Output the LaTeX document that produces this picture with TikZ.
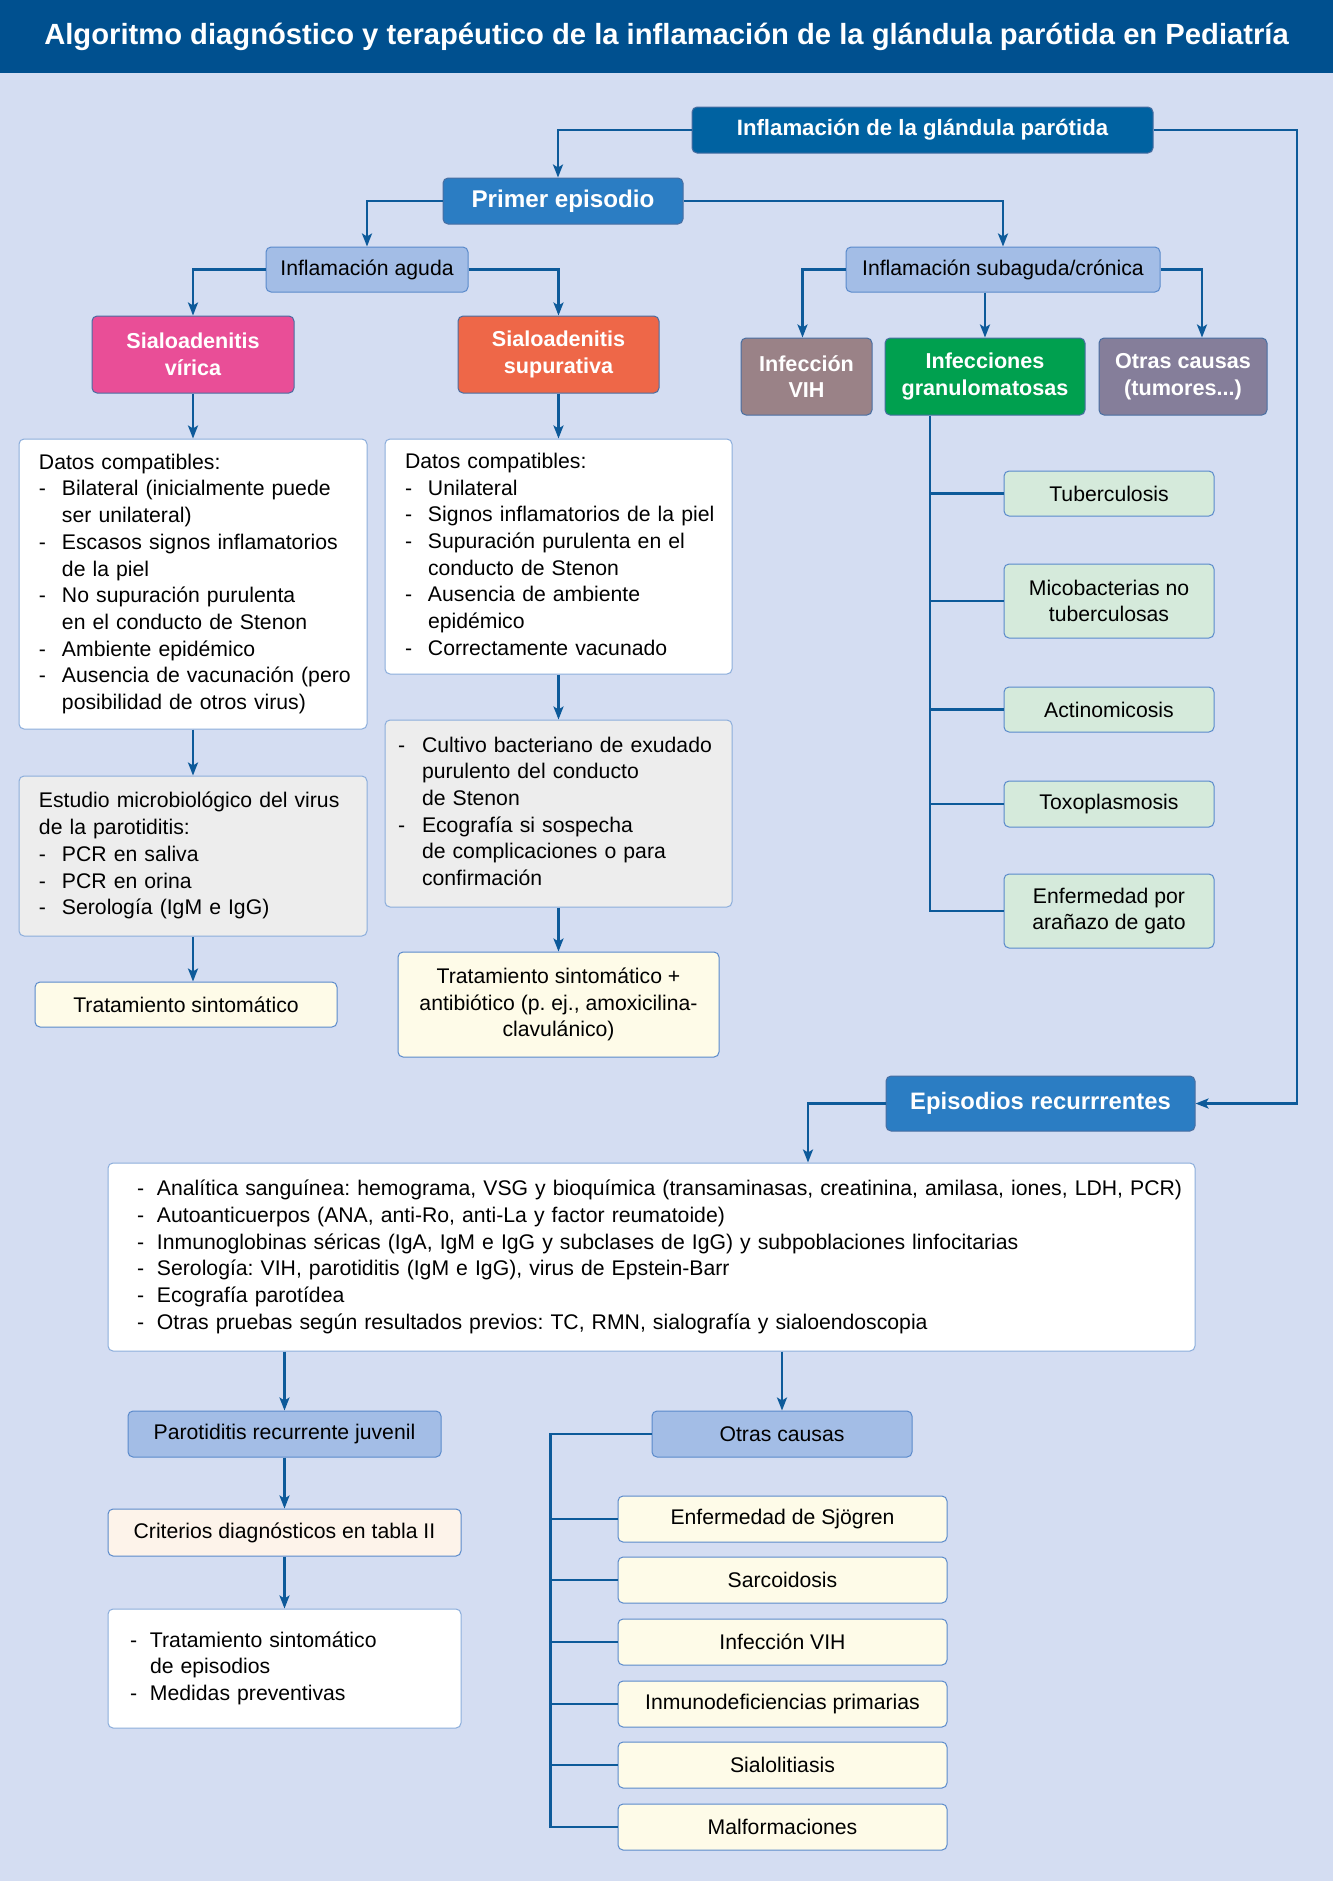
\documentclass[tikz,border=0pt]{standalone}
\usepackage{fontspec}
\setmainfont{Liberation Sans}
\usetikzlibrary{arrows.meta,positioning}
\definecolor{fondo}{HTML}{D4DDF2}
\definecolor{cabecera}{HTML}{00508F}
\definecolor{linea}{HTML}{0D5A9A}
\definecolor{azuloscuro}{HTML}{0062A1}
\definecolor{azulmedio}{HTML}{2B7DC3}
\definecolor{azulclaro}{HTML}{A3BDE6}
\definecolor{bordeclaro}{HTML}{5A8ACB}
\definecolor{rosa}{HTML}{E94E97}
\definecolor{naranja}{HTML}{EE6748}
\definecolor{malva}{HTML}{9A8287}
\definecolor{verde}{HTML}{00A04F}
\definecolor{lila}{HTML}{857E9A}
\definecolor{gris}{HTML}{EDEDED}
\definecolor{crema}{HTML}{FEFBE8}
\definecolor{verdeclaro}{HTML}{D5EADB}
\definecolor{melocoton}{HTML}{FDF3EA}
\frenchspacing
\newcommand{\gi}[1][11.5pt]{\makebox[#1][l]{-}}
\newcommand{\si}[1][11.5pt]{\hspace*{#1}}
\newcommand{\filas}[1]{\begin{tabular}{@{}l@{}}#1\end{tabular}}
\begin{document}
\begin{tikzpicture}[x=0.5pt,y=-0.5pt]
		\tikzstyle{caja}=[rectangle,rounded corners=2.5pt,draw=bordeclaro,line width=0.5pt,inner ysep=1pt,
			font=\fontsize{10.6}{13.35}\selectfont,align=center]
		\tikzstyle{fuerte}=[caja,draw=bordeclaro!80!black,text=white,font=\fontsize{10.8}{13.35}\selectfont\bfseries]
		\tikzstyle{clara}=[caja,fill=azulclaro]
		\tikzstyle{lista}=[caja,align=left,draw=bordeclaro!70]
		\tikzstyle{flecha}=[draw=linea,line width=1.3pt,-{Stealth[length=6.5pt,width=5pt,inset=1.5pt]}]
		\tikzstyle{rama}=[draw=linea,line width=1.3pt]
		\fill[fondo] (0,0) rectangle (1333,1881);
		\fill[cabecera] (0,0) rectangle (1333,73);
		\node[text=white,font=\fontsize{14.6}{17}\selectfont\bfseries] (titulo) at (666.5,36.5)
			{Algoritmo diagnóstico y terapéutico de la inflamación de la glándula parótida en Pediatría};
		% primera parte
		\node[fuerte,fill=azuloscuro,minimum width=230.5pt,minimum height=23pt,font=\fontsize{11.1}{13.35}\selectfont\bfseries] (glandula) at (922.5,130) {Inflamación de la glándula parótida};
		\node[fuerte,fill=azulmedio,minimum width=120pt,minimum height=23pt,font=\fontsize{12.1}{14}\selectfont\bfseries] (primer) at (563,201) {Primer episodio};
		\node[clara,minimum width=101pt,minimum height=22.5pt] (aguda) at (367,269.5) {Inflamación aguda};
		\node[clara,minimum width=157pt,minimum height=22.5pt] (subaguda) at (1003,269.5) {Inflamación subaguda/crónica};
		\node[fuerte,fill=rosa,minimum width=101pt,minimum height=38.5pt] (virica) at (193,354.5) {Sialoadenitis\\vírica};
		\node[fuerte,fill=naranja,minimum width=100.5pt,minimum height=38.5pt] (supurativa) at (558.5,354.5) {Sialoadenitis\\supurativa};
		\node[fuerte,fill=malva,minimum width=65.5pt,minimum height=38.5pt] (vih) at (806.5,376.5) {Infección\\VIH};
		\node[fuerte,fill=verde,minimum width=100pt,minimum height=38.5pt] (granulo) at (985,376.5) {Infecciones\\granulomatosas};
		\node[fuerte,fill=lila,minimum width=84pt,minimum height=38.5pt] (otrastum) at (1183,376.5) {Otras causas\\(tumores...)};
		\node[lista,fill=white,inner xsep=10pt,text width=154pt,minimum height=145pt] (datosv) at (193,584)
			{\filas{Datos compatibles:\\
			\gi Bilateral (inicialmente puede\\ \si ser unilateral)\\
			\gi Escasos signos inflamatorios\\ \si de la piel\\
			\gi No supuración purulenta\\ \si en el conducto de Stenon\\
			\gi Ambiente epidémico\\
			\gi Ausencia de vacunación (pero\\ \si posibilidad de otros virus)}};
		\node[lista,fill=white,inner xsep=10pt,text width=153.5pt,minimum height=117.5pt] (datoss) at (558.5,556.5)
			{\filas{Datos compatibles:\\
			\gi Unilateral\\
			\gi Signos inflamatorios de la piel\\
			\gi Supuración purulenta en el\\ \si conducto de Stenon\\
			\gi Ausencia de ambiente\\ \si epidémico\\
			\gi Correctamente vacunado}};
		\node[lista,fill=gris,inner xsep=10pt,text width=154pt,minimum height=80pt] (estudio) at (193,856)
			{\filas{Estudio microbiológico del virus\\de la parotiditis:\\
			\gi PCR en saliva\\
			\gi PCR en orina\\
			\gi Serología (IgM e IgG)}};
		\node[lista,fill=gris,inner xsep=6.5pt,text width=160.5pt,minimum height=93.5pt] (cultivo) at (558.5,813.5)
			{\filas{\gi[12pt]Cultivo bacteriano de exudado\\ \si[12pt]purulento del conducto\\ \si[12pt]de Stenon\\
			\gi[12pt]Ecografía si sospecha\\ \si[12pt]de complicaciones o para\\ \si[12pt]confirmación}};
		\node[caja,fill=crema,minimum width=151pt,minimum height=22.5pt] (tratv) at (186,1004.5) {Tratamiento sintomático};
		\node[caja,fill=crema,minimum width=160.5pt,minimum height=52.5pt] (trats) at (558.5,1004.5)
			{Tratamiento sintomático +\\antibiótico (p. ej., amoxicilina-\\clavulánico)};
		\tikzstyle{granu}=[caja,fill=verdeclaro,minimum width=105pt,minimum height=22.5pt]
		\node[granu] (tuber) at (1109,493.5) {Tuberculosis};
		\node[granu,minimum height=37pt] (micob) at (1109,601) {Micobacterias no\\tuberculosas};
		\node[granu] (actino) at (1109,709.5) {Actinomicosis};
		\node[granu,minimum height=23pt] (toxo) at (1109,804) {Toxoplasmosis};
		\node[granu,minimum height=37pt] (arana) at (1109,911) {Enfermedad por\\arañazo de gato};
		% episodios recurrentes
		\node[fuerte,fill=azulmedio,minimum width=154.5pt,minimum height=27.5pt,font=\fontsize{11.9}{14}\selectfont\bfseries] (recurr) at (1040.5,1103.5) {Episodios recurrrentes};
		\node[lista,fill=white,inner xsep=14.5pt,text width=514.5pt,minimum height=94pt] (pruebas) at (651.5,1257)
			{\filas{\gi[10pt]Analítica sanguínea: hemograma, VSG y bioquímica (transaminasas, creatinina, amilasa, iones, LDH, PCR)\\
			\gi[10pt]Autoanticuerpos (ANA, anti-Ro, anti-La y factor reumatoide)\\
			\gi[10pt]Inmunoglobinas séricas (IgA, IgM e IgG y subclases de IgG) y subpoblaciones linfocitarias\\
			\gi[10pt]Serología: VIH, parotiditis (IgM e IgG), virus de Epstein-Barr\\
			\gi[10pt]Ecografía parotídea\\
			\gi[10pt]Otras pruebas según resultados previos: TC, RMN, sialografía y sialoendoscopia}};
		\node[clara,minimum width=156.5pt,minimum height=23pt] (prj) at (284.5,1434) {Parotiditis recurrente juvenil};
		\node[caja,fill=melocoton,minimum width=176.5pt,minimum height=23.5pt] (criterios) at (284.5,1532.5) {Criterios diagnósticos en tabla II};
		\node[lista,fill=white,inner xsep=11pt,text width=154.5pt,minimum height=59.5pt] (tratprj) at (284.5,1668.5)
			{\filas{\gi[10pt]Tratamiento sintomático\\ \si[10pt]de episodios\\
			\gi[10pt]Medidas preventivas}};
		\node[clara,minimum width=130pt,minimum height=23pt] (otras) at (782,1434) {Otras causas};
		\tikzstyle{otra}=[caja,fill=crema,minimum width=164.5pt,minimum height=23pt]
		\node[otra] (sjogren) at (782.5,1519) {Enfermedad de Sjögren};
		\node[otra] (sarco) at (782.5,1580) {Sarcoidosis};
		\node[otra] (vihb) at (782.5,1642) {Infección VIH};
		\node[otra] (inmuno) at (782.5,1704) {Inmunodeficiencias primarias};
		\node[otra] (sialo) at (782.5,1765) {Sialolitiasis};
		\node[otra] (malf) at (782.5,1827) {Malformaciones};
		% conectores
		\coordinate (ejed) at (1297,0);
		\coordinate (ejeg) at ([xshift=-27.5pt]granulo.south);
		\coordinate (ejeo) at ([xshift=-50.5pt]otras.west);
		\draw[flecha] (glandula.west) -| ([xshift=-2.5pt]primer.north);
		\draw[flecha] (glandula.east) -- (glandula.east -| ejed) |- (recurr.east);
		\draw[flecha] (primer.west) -| (aguda.north);
		\draw[flecha] (primer.east) -| (subaguda.north);
		\draw[flecha] (aguda.west) -| (virica.north);
		\draw[flecha] (aguda.east) -| (supurativa.north);
		\draw[flecha] (subaguda.west) -| ([xshift=-2pt]vih.north);
		\draw[flecha] (granulo.north |- subaguda.south) -- (granulo.north);
		\draw[flecha] (subaguda.east) -| ([xshift=9.5pt]otrastum.north);
		\foreach \a/\b in {virica/datosv,datosv/estudio,supurativa/datoss,datoss/cultivo,cultivo/trats,prj/criterios,criterios/tratprj}
			\draw[flecha] (\a) -- (\b);
		\draw[flecha] (estudio.south) -- (estudio.south |- tratv.north);
		\draw[rama] (ejeg) |- (arana.west);
		\foreach \n in {tuber,micob,actino,toxo}
			\draw[rama] (ejeg |- \n.west) -- (\n.west);
		\draw[flecha] (recurr.west) -| ([xshift=78.25pt]pruebas.north);
		\draw[flecha] (pruebas.south -| prj.north) -- (prj.north);
		\draw[flecha] (pruebas.south -| otras.north) -- (otras.north);
		\draw[rama] (otras.west) -- (ejeo) |- (malf.west);
		\foreach \n in {sjogren,sarco,vihb,inmuno,sialo}
			\draw[rama] (ejeo |- \n.west) -- (\n.west);
	\end{tikzpicture}
\end{document}
